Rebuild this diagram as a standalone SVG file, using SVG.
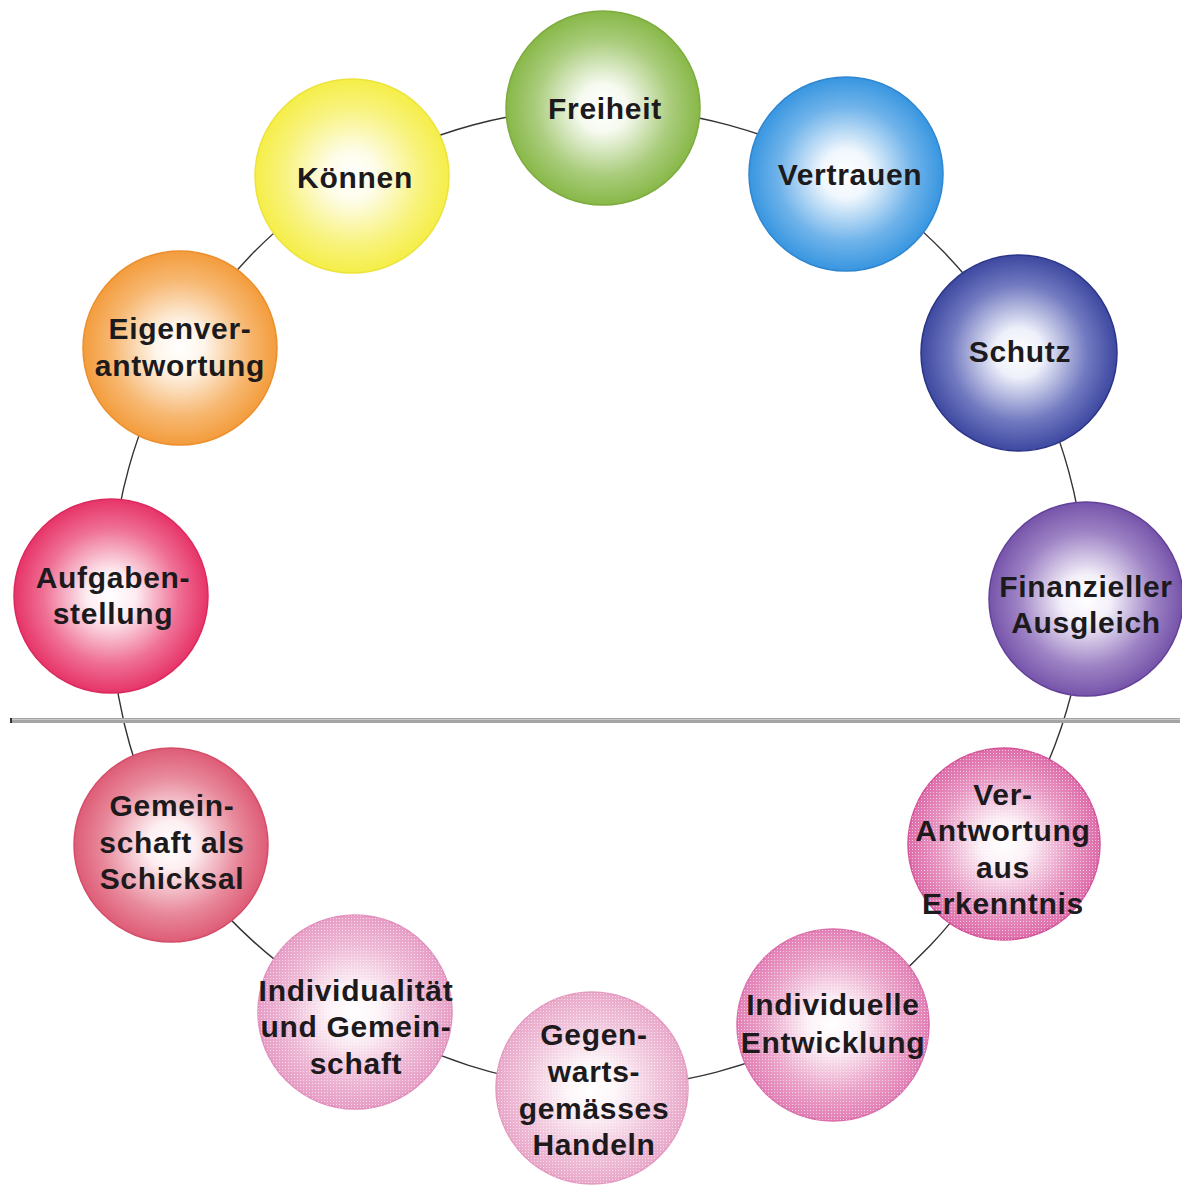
<svg xmlns="http://www.w3.org/2000/svg" width="1182" height="1185" viewBox="0 0 1182 1185">
  <defs>
    <!-- radial fills: white core fading to the node colour -->
    <radialGradient id="gGreen"><stop offset="0" stop-color="#fff"/><stop offset="0.25" stop-color="#f6faf0"/><stop offset="0.7" stop-color="#a9cc7b"/><stop offset="1" stop-color="#88b848"/></radialGradient>
    <radialGradient id="gBlue"><stop offset="0" stop-color="#fff"/><stop offset="0.25" stop-color="#f0f7fd"/><stop offset="0.7" stop-color="#6fb3ea"/><stop offset="1" stop-color="#3896e0"/></radialGradient>
    <radialGradient id="gNavy"><stop offset="0" stop-color="#fff"/><stop offset="0.25" stop-color="#eef0fa"/><stop offset="0.7" stop-color="#7179c0"/><stop offset="1" stop-color="#3d48a0"/></radialGradient>
    <radialGradient id="gPurple"><stop offset="0" stop-color="#fff"/><stop offset="0.25" stop-color="#f4f0fa"/><stop offset="0.7" stop-color="#9d82c4"/><stop offset="1" stop-color="#7654aa"/></radialGradient>
    <radialGradient id="gPink1"><stop offset="0" stop-color="#fff"/><stop offset="0.25" stop-color="#fcf0f6"/><stop offset="0.7" stop-color="#e896c2"/><stop offset="1" stop-color="#de6ca9"/></radialGradient>
    <radialGradient id="gPink2"><stop offset="0" stop-color="#fff"/><stop offset="0.25" stop-color="#fcf2f7"/><stop offset="0.7" stop-color="#eba3c9"/><stop offset="1" stop-color="#e27fb5"/></radialGradient>
    <radialGradient id="gPink3"><stop offset="0" stop-color="#fff"/><stop offset="0.25" stop-color="#fdf6f9"/><stop offset="0.7" stop-color="#f0c3da"/><stop offset="1" stop-color="#e9a8c9"/></radialGradient>
    <radialGradient id="gPink4"><stop offset="0" stop-color="#fff"/><stop offset="0.25" stop-color="#fdf4f8"/><stop offset="0.7" stop-color="#eeb8d5"/><stop offset="1" stop-color="#e79dc5"/></radialGradient>
    <radialGradient id="gRose"><stop offset="0" stop-color="#fff"/><stop offset="0.25" stop-color="#fdeef1"/><stop offset="0.7" stop-color="#e88a9c"/><stop offset="1" stop-color="#de5c76"/></radialGradient>
    <radialGradient id="gRed"><stop offset="0" stop-color="#fff"/><stop offset="0.25" stop-color="#fdedf2"/><stop offset="0.7" stop-color="#ef6f94"/><stop offset="1" stop-color="#e63468"/></radialGradient>
    <radialGradient id="gOrange"><stop offset="0" stop-color="#fff"/><stop offset="0.25" stop-color="#fef5ea"/><stop offset="0.7" stop-color="#f7b872"/><stop offset="1" stop-color="#f39c3c"/></radialGradient>
    <radialGradient id="gYellow"><stop offset="0" stop-color="#fff"/><stop offset="0.25" stop-color="#fefdea"/><stop offset="0.7" stop-color="#f8f37e"/><stop offset="1" stop-color="#f5ee48"/></radialGradient>
    <!-- halftone screen used on the lower nodes -->
    <pattern id="screen" width="3" height="3" patternUnits="userSpaceOnUse">
      <rect x="0" y="0" width="1" height="1" fill="#fff" fill-opacity="0.6"/>
    </pattern>
  </defs>
  <style>
    .ring { fill: none; stroke: #333; stroke-width: 1.4; }
    .node circle.body { stroke-width: 1.5; }
    .dots { fill: url(#screen); }
    .label { font-family: "Liberation Sans", Arial, sans-serif; font-weight: bold; font-size: 30px; fill: #1c1a1c; text-anchor: middle; letter-spacing: 0.7px; }
  </style>

  <rect width="1182" height="1185" fill="#fff"/>

  <!-- connectors: arcs of the main ring between neighbouring nodes -->
  <g id="connectors">
    <path class="ring" d="M603,108 A490,490 0 0 1 846,174"/>
    <path class="ring" d="M846,174 A490,490 0 0 1 1019,353"/>
    <path class="ring" d="M1019,353 A490,490 0 0 1 1086,599"/>
    <path class="ring" d="M1086,599 A490,490 0 0 1 1004,844"/>
    <path class="ring" d="M1004,844 A490,490 0 0 1 833,1025"/>
    <path class="ring" d="M833,1025 A490,490 0 0 1 592,1088"/>
    <path class="ring" d="M592,1088 A490,490 0 0 1 355,1012"/>
    <path class="ring" d="M355,1012 A490,490 0 0 1 171,845"/>
    <path class="ring" d="M171,845 A490,490 0 0 1 111,596"/>
    <path class="ring" d="M111,596 A490,490 0 0 1 180,348"/>
    <path class="ring" d="M180,348 A490,490 0 0 1 352,176"/>
    <path class="ring" d="M352,176 A490,490 0 0 1 603,108"/>
  </g>

  <!-- dividing rule -->
  <g id="divider">
    <rect x="10" y="718" width="1170" height="5" fill="#a4a4a4"/>
    <rect x="10" y="719" width="1170" height="1" fill="#c8c8c8"/>
    <rect x="10" y="718" width="2" height="5" fill="#333"/>
  </g>

  <g id="freiheit" class="node">
    <circle class="body" cx="603" cy="108" r="97" fill="url(#gGreen)" stroke="#7eab3e"/>
    <text class="label" x="605" y="119">Freiheit</text>
  </g>
  <g id="vertrauen" class="node">
    <circle class="body" cx="846" cy="174" r="97" fill="url(#gBlue)" stroke="#2f86d0"/>
    <text class="label" x="850" y="185">Vertrauen</text>
  </g>
  <g id="schutz" class="node">
    <circle class="body" cx="1019" cy="353" r="98" fill="url(#gNavy)" stroke="#2c3588"/>
    <text class="label" x="1020" y="362">Schutz</text>
  </g>
  <g id="finanzieller-ausgleich" class="node">
    <circle class="body" cx="1086" cy="599" r="97" fill="url(#gPurple)" stroke="#64419a"/>
    <text class="label" x="1086" y="597">Finanzieller</text>
    <text class="label" x="1086" y="633">Ausgleich</text>
  </g>
  <g id="verantwortung-aus-erkenntnis" class="node">
    <circle class="body" cx="1004" cy="844" r="96" fill="url(#gPink1)" stroke="#d4559a"/>
    <circle class="dots" cx="1004" cy="844" r="96"/>
    <text class="label" x="1003" y="805">Ver-</text>
    <text class="label" x="1003" y="841">Antwortung</text>
    <text class="label" x="1003" y="878">aus</text>
    <text class="label" x="1003" y="914">Erkenntnis</text>
  </g>
  <g id="individuelle-entwicklung" class="node">
    <circle class="body" cx="833" cy="1025" r="96" fill="url(#gPink2)" stroke="#da6fab"/>
    <circle class="dots" cx="833" cy="1025" r="96"/>
    <text class="label" x="833" y="1015">Individuelle</text>
    <text class="label" x="833" y="1053">Entwicklung</text>
  </g>
  <g id="gegenwartsgemaesses-handeln" class="node">
    <circle class="body" cx="592" cy="1088" r="96" fill="url(#gPink3)" stroke="#e49abf"/>
    <circle class="dots" cx="592" cy="1088" r="96"/>
    <text class="label" x="594" y="1045">Gegen-</text>
    <text class="label" x="594" y="1082">warts-</text>
    <text class="label" x="594" y="1119">gemässes</text>
    <text class="label" x="594" y="1155">Handeln</text>
  </g>
  <g id="individualitaet-und-gemeinschaft" class="node">
    <circle class="body" cx="355" cy="1012" r="97" fill="url(#gPink4)" stroke="#e18fbd"/>
    <circle class="dots" cx="355" cy="1012" r="97"/>
    <text class="label" x="356" y="1001">Individualität</text>
    <text class="label" x="356" y="1037">und Gemein-</text>
    <text class="label" x="356" y="1074">schaft</text>
  </g>
  <g id="gemeinschaft-als-schicksal" class="node">
    <circle class="body" cx="171" cy="845" r="97" fill="url(#gRose)" stroke="#d44e69"/>
    <text class="label" x="172" y="816">Gemein-</text>
    <text class="label" x="172" y="853">schaft als</text>
    <text class="label" x="172" y="889">Schicksal</text>
  </g>
  <g id="aufgabenstellung" class="node">
    <circle class="body" cx="111" cy="596" r="97" fill="url(#gRed)" stroke="#dc2a5e"/>
    <text class="label" x="113" y="588">Aufgaben-</text>
    <text class="label" x="113" y="624">stellung</text>
  </g>
  <g id="eigenverantwortung" class="node">
    <circle class="body" cx="180" cy="348" r="97" fill="url(#gOrange)" stroke="#ec8f2e"/>
    <text class="label" x="180" y="339">Eigenver-</text>
    <text class="label" x="180" y="376">antwortung</text>
  </g>
  <g id="koennen" class="node">
    <circle class="body" cx="352" cy="176" r="97" fill="url(#gYellow)" stroke="#ece43c"/>
    <text class="label" x="355" y="188">Können</text>
  </g>
</svg>
